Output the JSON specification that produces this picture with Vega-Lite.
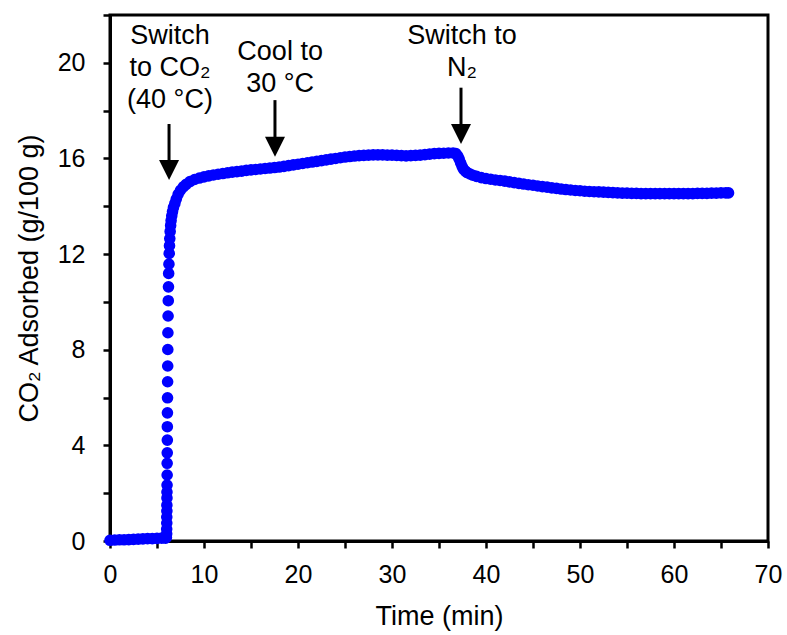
{
  "$schema": "https://vega.github.io/schema/vega-lite/v6.json",
  "width": 658,
  "height": 526,
  "autosize": {"type": "none"},
  "padding": {"left": 110, "top": 15, "right": 19, "bottom": 94},
  "background": "white",
  "config": {
    "font": "Liberation Sans",
    "view": {"stroke": "black", "strokeWidth": 3},
    "axis": {
      "grid": false,
      "domainColor": "black",
      "domainWidth": 3,
      "tickColor": "black",
      "tickWidth": 2.5,
      "tickSize": 7,
      "labelColor": "black",
      "labelFontSize": 25,
      "labelFont": "Liberation Sans",
      "titleFont": "Liberation Sans",
      "titleColor": "black",
      "titleFontSize": 27,
      "titleFontWeight": "normal",
      "labelOverlap": false,
      "labelFlush": false
    }
  },
  "datasets": {
    "curve": [
      {"t": 0, "v": 0.03}, {"t": 0.5, "v": 0.04}, {"t": 1, "v": 0.05}, {"t": 1.5, "v": 0.05},
      {"t": 2, "v": 0.06}, {"t": 2.5, "v": 0.07}, {"t": 3, "v": 0.08}, {"t": 3.5, "v": 0.09},
      {"t": 4, "v": 0.1}, {"t": 4.5, "v": 0.1}, {"t": 5, "v": 0.11}, {"t": 5.5, "v": 0.12},
      {"t": 5.9, "v": 0.12}, {"t": 6.0, "v": 0.15},
      {"t": 6.03, "v": 0.3}, {"t": 6.03, "v": 0.5}, {"t": 6.04, "v": 0.75}, {"t": 6.04, "v": 1.0},
      {"t": 6.05, "v": 1.25}, {"t": 6.05, "v": 1.5}, {"t": 6.06, "v": 1.8}, {"t": 6.06, "v": 2.05},
      {"t": 6.07, "v": 2.34}, {"t": 6.08, "v": 2.76}, {"t": 6.08, "v": 3.25}, {"t": 6.09, "v": 3.69},
      {"t": 6.1, "v": 4.22}, {"t": 6.1, "v": 4.78}, {"t": 6.11, "v": 5.36}, {"t": 6.12, "v": 5.99},
      {"t": 6.13, "v": 6.66}, {"t": 6.14, "v": 7.32}, {"t": 6.15, "v": 8.01}, {"t": 6.16, "v": 8.71},
      {"t": 6.18, "v": 9.41}, {"t": 6.2, "v": 10.05}, {"t": 6.22, "v": 10.63}, {"t": 6.24, "v": 11.19},
      {"t": 6.27, "v": 11.58}, {"t": 6.3, "v": 12.03}, {"t": 6.33, "v": 12.35}, {"t": 6.36, "v": 12.65},
      {"t": 6.4, "v": 12.95}, {"t": 6.45, "v": 13.2}, {"t": 6.5, "v": 13.4}, {"t": 6.57, "v": 13.6},
      {"t": 6.65, "v": 13.78}, {"t": 6.75, "v": 13.95}, {"t": 6.9, "v": 14.12}, {"t": 7.05, "v": 14.3},
      {"t": 7.25, "v": 14.5}, {"t": 7.5, "v": 14.67}, {"t": 7.8, "v": 14.81}, {"t": 8.1, "v": 14.92},
      {"t": 8.5, "v": 15.03}, {"t": 9, "v": 15.12}, {"t": 9.5, "v": 15.18}, {"t": 10, "v": 15.23},
      {"t": 10.5, "v": 15.27}, {"t": 11, "v": 15.31}, {"t": 11.5, "v": 15.34}, {"t": 12, "v": 15.37},
      {"t": 12.5, "v": 15.4}, {"t": 13, "v": 15.43}, {"t": 13.5, "v": 15.45}, {"t": 14, "v": 15.47},
      {"t": 14.5, "v": 15.5}, {"t": 15, "v": 15.52}, {"t": 15.5, "v": 15.54}, {"t": 16, "v": 15.56},
      {"t": 16.5, "v": 15.58}, {"t": 17, "v": 15.6}, {"t": 17.5, "v": 15.62}, {"t": 18, "v": 15.64},
      {"t": 18.5, "v": 15.67}, {"t": 19, "v": 15.7}, {"t": 19.5, "v": 15.73}, {"t": 20, "v": 15.76},
      {"t": 20.5, "v": 15.79}, {"t": 21, "v": 15.82}, {"t": 21.5, "v": 15.85}, {"t": 22, "v": 15.88},
      {"t": 22.5, "v": 15.91}, {"t": 23, "v": 15.94}, {"t": 23.5, "v": 15.97}, {"t": 24, "v": 16.0},
      {"t": 24.5, "v": 16.03}, {"t": 25, "v": 16.06}, {"t": 25.5, "v": 16.08}, {"t": 26, "v": 16.1},
      {"t": 26.5, "v": 16.12}, {"t": 27, "v": 16.13}, {"t": 27.5, "v": 16.14}, {"t": 28, "v": 16.15},
      {"t": 28.5, "v": 16.15}, {"t": 29, "v": 16.15}, {"t": 29.5, "v": 16.14}, {"t": 30, "v": 16.14},
      {"t": 30.5, "v": 16.13}, {"t": 31, "v": 16.12}, {"t": 31.5, "v": 16.11}, {"t": 32, "v": 16.12},
      {"t": 32.5, "v": 16.13}, {"t": 33, "v": 16.14}, {"t": 33.5, "v": 16.16}, {"t": 34, "v": 16.18},
      {"t": 34.5, "v": 16.2}, {"t": 35, "v": 16.21}, {"t": 35.5, "v": 16.22}, {"t": 36, "v": 16.23},
      {"t": 36.5, "v": 16.23}, {"t": 36.8, "v": 16.2}, {"t": 37.0, "v": 16.1}, {"t": 37.15, "v": 15.97},
      {"t": 37.3, "v": 15.82}, {"t": 37.45, "v": 15.67}, {"t": 37.6, "v": 15.55}, {"t": 37.8, "v": 15.47},
      {"t": 38.0, "v": 15.41}, {"t": 38.3, "v": 15.35}, {"t": 38.6, "v": 15.3}, {"t": 39, "v": 15.25},
      {"t": 39.5, "v": 15.2}, {"t": 40, "v": 15.16}, {"t": 40.5, "v": 15.13}, {"t": 41, "v": 15.1},
      {"t": 41.5, "v": 15.08}, {"t": 42, "v": 15.05}, {"t": 42.5, "v": 15.02}, {"t": 43, "v": 14.99},
      {"t": 43.5, "v": 14.96}, {"t": 44, "v": 14.93}, {"t": 44.5, "v": 14.9}, {"t": 45, "v": 14.88},
      {"t": 45.5, "v": 14.85}, {"t": 46, "v": 14.82}, {"t": 46.5, "v": 14.8}, {"t": 47, "v": 14.77},
      {"t": 47.5, "v": 14.75}, {"t": 48, "v": 14.72}, {"t": 48.5, "v": 14.7}, {"t": 49, "v": 14.68},
      {"t": 49.5, "v": 14.66}, {"t": 50, "v": 14.65}, {"t": 50.5, "v": 14.63}, {"t": 51, "v": 14.62},
      {"t": 51.5, "v": 14.61}, {"t": 52, "v": 14.6}, {"t": 52.5, "v": 14.59}, {"t": 53, "v": 14.58},
      {"t": 53.5, "v": 14.57}, {"t": 54, "v": 14.56}, {"t": 54.5, "v": 14.55}, {"t": 55, "v": 14.55},
      {"t": 55.5, "v": 14.54}, {"t": 56, "v": 14.54}, {"t": 56.5, "v": 14.53}, {"t": 57, "v": 14.53},
      {"t": 57.5, "v": 14.53}, {"t": 58, "v": 14.53}, {"t": 58.5, "v": 14.53}, {"t": 59, "v": 14.53},
      {"t": 59.5, "v": 14.53}, {"t": 60, "v": 14.53}, {"t": 60.5, "v": 14.53}, {"t": 61, "v": 14.53},
      {"t": 61.5, "v": 14.53}, {"t": 62, "v": 14.53}, {"t": 62.5, "v": 14.54}, {"t": 63, "v": 14.54},
      {"t": 63.5, "v": 14.54}, {"t": 64, "v": 14.55}, {"t": 64.5, "v": 14.55}, {"t": 65, "v": 14.56},
      {"t": 65.5, "v": 14.56}, {"t": 65.8, "v": 14.56}
    ],
    "arrows": [
      {"t": 6.28, "v": 17.44, "v2": 15.52},
      {"t": 17.55, "v": 18.44, "v2": 16.49},
      {"t": 37.34, "v": 18.96, "v2": 17.02}
    ],
    "notes": [
      {"t": 6.38, "v": 20.8, "label": "Switch\nto CO₂\n(40 °C)"},
      {"t": 18.1, "v": 20.12, "label": "Cool to\n30 °C"},
      {"t": 37.45, "v": 20.8, "label": "Switch to\nN₂"}
    ]
  },
  "layer": [
    {
      "data": {"name": "curve"},
      "mark": {"type": "point", "shape": "circle", "filled": true, "size": 135, "color": "#0000FF", "opacity": 1, "strokeWidth": 0},
      "encoding": {
        "x": {
          "field": "t", "type": "quantitative", "title": "Time (min)",
          "scale": {"domain": [0, 70], "nice": false, "zero": false},
          "axis": {
            "values": [0, 5, 10, 15, 20, 25, 30, 35, 40, 45, 50, 55, 60, 65, 70],
            "labelExpr": "datum.value % 10 === 0 ? datum.label : ''",
            "labelPadding": 14,
            "titlePadding": 16
          }
        },
        "y": {
          "field": "v", "type": "quantitative", "title": "CO₂ Adsorbed (g/100 g)",
          "scale": {"domain": [0, 22], "nice": false, "zero": false},
          "axis": {
            "values": [0, 2, 4, 6, 8, 10, 12, 14, 16, 18, 20, 22],
            "labelExpr": "datum.value % 4 === 0 ? datum.label : ''",
            "labelPadding": 18,
            "titlePadding": 14
          }
        }
      }
    },
    {
      "data": {"name": "arrows"},
      "mark": {"type": "rule", "color": "black", "strokeWidth": 3},
      "encoding": {
        "x": {"field": "t", "type": "quantitative", "title": "Time (min)"},
        "y": {"field": "v", "type": "quantitative", "title": "CO₂ Adsorbed (g/100 g)"},
        "y2": {"field": "v2"}
      }
    },
    {
      "data": {"name": "arrows"},
      "mark": {"type": "point", "shape": "M-1,-1L1,-1L0,1Z", "filled": true, "size": 400, "color": "black", "opacity": 1, "strokeWidth": 0},
      "encoding": {
        "x": {"field": "t", "type": "quantitative", "title": "Time (min)"},
        "y": {"field": "v2", "type": "quantitative", "title": "CO₂ Adsorbed (g/100 g)"}
      }
    },
    {
      "data": {"name": "notes"},
      "mark": {"type": "text", "align": "center", "baseline": "alphabetic", "fontSize": 27, "lineBreak": "\n", "lineHeight": 32, "font": "Liberation Sans", "color": "black"},
      "encoding": {
        "x": {"field": "t", "type": "quantitative", "title": "Time (min)"},
        "y": {"field": "v", "type": "quantitative", "title": "CO₂ Adsorbed (g/100 g)"},
        "text": {"field": "label", "type": "nominal"}
      }
    }
  ]
}
